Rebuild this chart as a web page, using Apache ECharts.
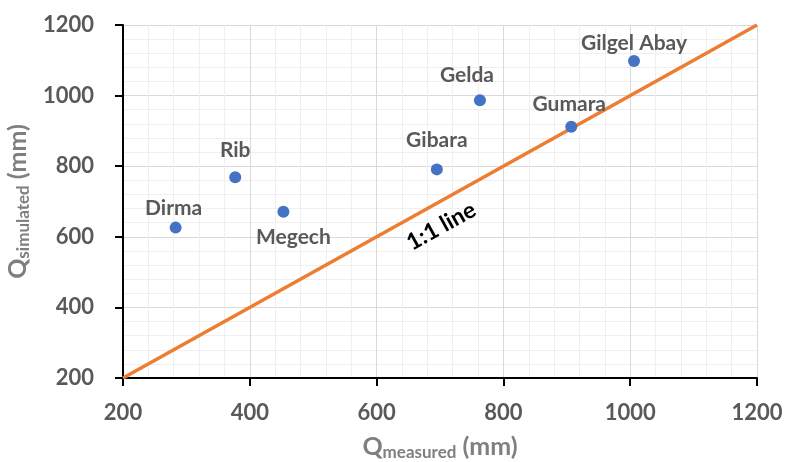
<!DOCTYPE html>
<html><head><meta charset="utf-8">
<script src="https://cdn.jsdelivr.net/npm/echarts@6/dist/echarts.min.js"></script>
<style>html,body{margin:0;padding:0;background:#fff}#c{width:788px;height:462px}</style>
</head><body><div id="c"></div>
<script>
var stations = ['Dirma','Rib','Megech','Gibara','Gelda','Gumara','Gilgel Abay'];
var qMeasured = [283, 377, 453, 695, 763, 907, 1006];
var qSimulated = [626, 769, 671, 791, 987, 912, 1098];
var oneToOne = [[200, 200], [1200, 1200]];
var labelOffsets = [[-2,-19],[0,-27],[10,25],[0,-29],[-13,-25],[-2,-22],[0,-18]];

var F = 'Lato, "Open Sans", sans-serif';
var chart = echarts.init(document.getElementById('c'));
var pts = stations.map(function(n, i){
  return {value:[qMeasured[i], qSimulated[i]], name:n,
    label:{offset:labelOffsets[i]}};
});
function axis(){
  return {
    type:'value', min:200, max:1200, interval:200,
    axisLine:{show:true, onZero:false, lineStyle:{color:'#000', width:2}},
    axisTick:{show:true, length:8, lineStyle:{color:'#000', width:2}},
    axisLabel:{color:'#595959', fontFamily:F, fontWeight:'bold', fontSize:22,
      formatter:function(v){return String(v);}},
    splitLine:{show:true, lineStyle:{color:'#d9d9d9', width:1}},
    minorTick:{show:false, splitNumber:5},
    minorSplitLine:{show:true, lineStyle:{color:'#efefef', width:1}}
  };
}
var xa = axis();
xa.axisLabel.margin = 24;
xa.name = '{q|Q}{s|measured}{q| (mm)}';
xa.nameLocation = 'middle'; xa.nameGap = 54;
xa.nameTextStyle = {rich:{q:{fontSize:25, fontFamily:F, fontWeight:'bold', color:'#7f7f7f'},
  s:{fontSize:17, fontFamily:F, fontWeight:'bold', color:'#7f7f7f', padding:[12,0,0,0]}}};
var ya = axis();
ya.axisLabel.margin = 29;
ya.name = '{q|Q}{s|simulated}{q| (mm)}';
ya.nameLocation = 'middle'; ya.nameGap = 89;
ya.nameTextStyle = {rich:{q:{fontSize:25, fontFamily:F, fontWeight:'bold', color:'#7f7f7f'},
  s:{fontSize:17, fontFamily:F, fontWeight:'bold', color:'#7f7f7f', padding:[12,0,0,0]}}};

chart.setOption({
  animation:false,
  grid:{left:123, right:31, top:25, bottom:84, containLabel:false, outerBoundsMode:'none'},
  xAxis:xa, yAxis:ya,
  series:[
    {type:'line', data:oneToOne, symbol:'none', z:2,
     lineStyle:{color:'#ED7D31', width:3.5},
     markPoint:{symbol:'circle', symbolSize:0, silent:true,
       data:[{coord:[702, 630], value:'1:1 line'}],
       label:{show:true, position:'inside', formatter:'1:1 line', rotate:29.1,
         color:'#000', fontFamily:F, fontWeight:'bold', fontSize:23}}},
    {type:'scatter', data:pts, symbolSize:12, z:3,
     itemStyle:{color:'#4472C4', opacity:1},
     label:{show:true, position:'inside', formatter:'{b}', color:'#595959',
       fontFamily:F, fontWeight:'bold', fontSize:21}}
  ]
});
</script></body></html>
